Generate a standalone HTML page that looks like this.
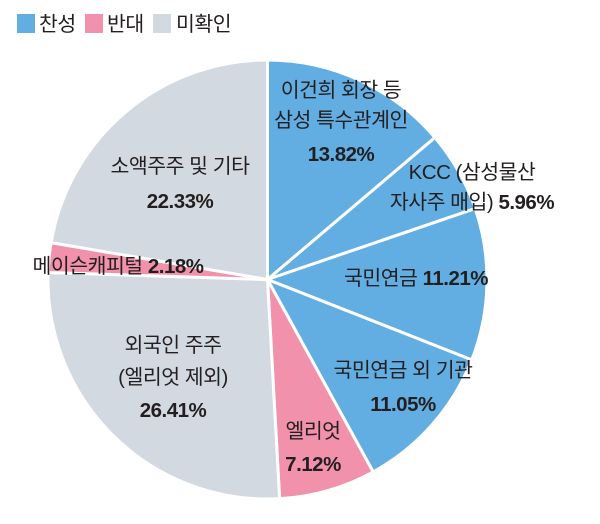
<!DOCTYPE html>
<html><head><meta charset="utf-8"><style>
body{margin:0;background:#fff;}
svg text{font-family:"Liberation Sans","Noto Sans CJK KR",sans-serif;fill:#231f20;font-size:20.5px;letter-spacing:-0.5px;}
.b{font-weight:bold;}
</style></head><body>
<svg id="s" width="600" height="519" viewBox="0 0 600 519">
<rect x="17" y="14" width="18" height="19" fill="#62aee3"/>
<text x="39" y="31">찬성</text>
<rect x="85" y="14" width="18" height="19" fill="#f191ab"/>
<text x="107" y="31">반대</text>
<rect x="153" y="14" width="18" height="19" fill="#d3d9e0"/>
<text x="176" y="31">미확인</text>
<g id="pie"></g>
<g text-anchor="middle">
<text x="341" y="97">이건희 회장 등</text>
<text x="341" y="127">삼성 특수관계인</text>
<text x="341" y="161" class="b">13.82%</text>
<text x="472" y="179">KCC (삼성물산</text>
<text x="472" y="209">자사주 매입) <tspan class="b">5.96%</tspan></text>
<text x="416" y="285">국민연금 <tspan class="b">11.21%</tspan></text>
<text x="403" y="377">국민연금 외 기관</text>
<text x="403" y="411" class="b">11.05%</text>
<text x="313" y="438">엘리엇</text>
<text x="313" y="471" class="b">7.12%</text>
<text x="173" y="352">외국인 주주</text>
<text x="173" y="384">(엘리엇 제외)</text>
<text x="173" y="417" class="b">26.41%</text>
<text x="118" y="273">메이슨캐피털 <tspan class="b">2.18%</tspan></text>
<text x="180" y="173">소액주주 및 기타</text>
<text x="180" y="208" class="b">22.33%</text>
</g>
</svg>
<script>
var d=[[13.82,"#62aee3"],[5.96,"#62aee3"],[11.21,"#62aee3"],[11.05,"#62aee3"],[7.12,"#f191ab"],[26.41,"#d3d9e0"],[2.18,"#f191ab"],[22.33,"#d3d9e0"]];
var tot=0;d.forEach(function(x){tot+=x[0];});
var cx=267.5,cy=279.5,r=219.5,a=0,h="";
d.forEach(function(x){var a2=a+x[0]/tot*2*Math.PI;
var x1=cx+r*Math.sin(a),y1=cy-r*Math.cos(a),x2=cx+r*Math.sin(a2),y2=cy-r*Math.cos(a2);
h+='<path d="M'+cx+' '+cy+'L'+x1+' '+y1+'A'+r+' '+r+' 0 '+((a2-a)>Math.PI?1:0)+' 1 '+x2+' '+y2+'Z" fill="'+x[1]+'" stroke="#fff" stroke-width="3" stroke-linejoin="round"/>';a=a2;});
document.getElementById("pie").innerHTML=h;
</script>
</body></html>
